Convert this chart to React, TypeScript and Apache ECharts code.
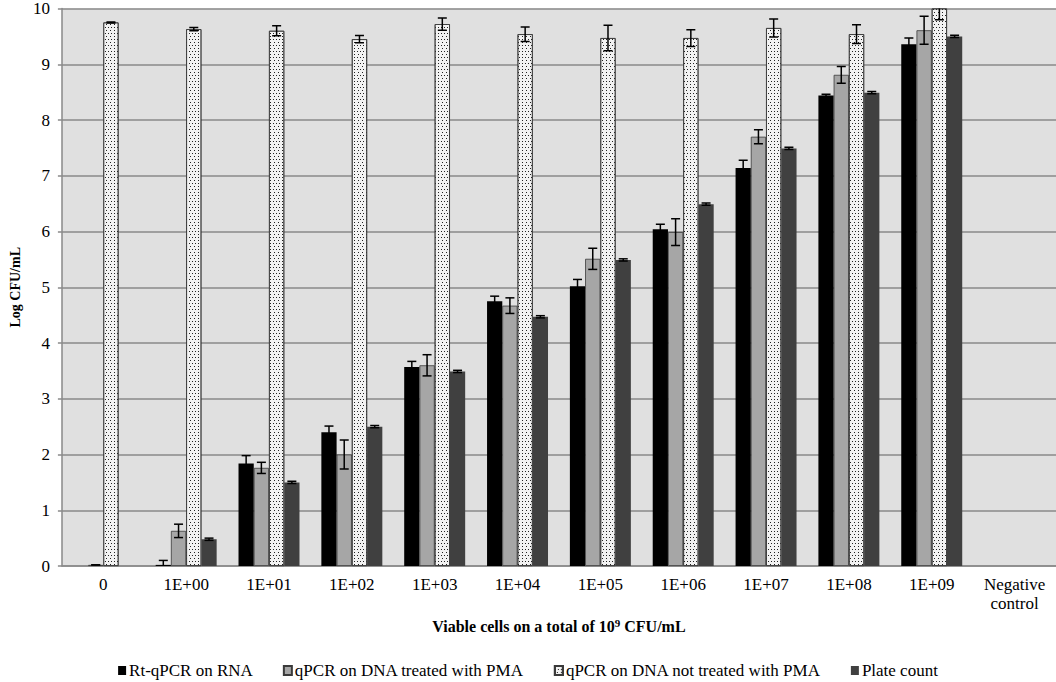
import React, { useEffect, useRef } from "react";
import * as echarts from "echarts";

const categories = ["0", "1E+00", "1E+01", "1E+02", "1E+03", "1E+04", "1E+05", "1E+06", "1E+07", "1E+08", "1E+09", "Negative\ncontrol"];
const yTicks = [0, 1, 2, 3, 4, 5, 6, 7, 8, 9, 10];

const seriesNames = ["Rt-qPCR on RNA", "qPCR on DNA treated with PMA", "qPCR on DNA not treated with PMA", "Plate count"];

const rtRna = [0, 0.02, 1.84, 2.40, 3.57, 4.75, 5.02, 6.04, 7.14, 8.44, 9.36, null];
const rtRnaErr = [0, 0.08, 0.14, 0.11, 0.10, 0.09, 0.12, 0.09, 0.14, 0.02, 0.11, null];
const pmaDna = [0.02, 0.63, 1.76, 2.0, 3.6, 4.67, 5.51, 5.99, 7.7, 8.81, 9.61, null];
const pmaDnaErr = [0, 0.12, 0.1, 0.26, 0.19, 0.14, 0.19, 0.24, 0.125, 0.15, 0.25, null];
const noPmaDna = [9.75, 9.63, 9.6, 9.45, 9.72, 9.54, 9.47, 9.47, 9.65, 9.54, 10.0, null];
const noPmaDnaErr = [0.01, 0.03, 0.09, 0.065, 0.11, 0.13, 0.23, 0.15, 0.16, 0.17, 0.2, null];
const plateCount = [0, 0.48, 1.5, 2.5, 3.49, 4.47, 5.49, 6.49, 7.49, 8.49, 9.5, null];
const plateCountErr = [0, 0.02, 0.02, 0.02, 0.02, 0.02, 0.02, 0.02, 0.02, 0.02, 0.02, null];

const FONT = "Liberation Serif";
const CAT_GAP = 0.264;

export default function App() {
  const ref = useRef<HTMLDivElement>(null);
  useEffect(() => {
    if (!ref.current) return;
    const chart = echarts.init(ref.current, null, { renderer: "svg" });

    const values = [rtRna, pmaDna, noPmaDna, plateCount];
    const errs = [rtRnaErr, pmaDnaErr, noPmaDnaErr, plateCountErr];
    const errData: any[] = [];
    values.forEach((arr, k) => {
      arr.forEach((v, i) => {
        const e = errs[k][i];
        if (v == null || e == null || (v === 0 && e === 0)) return;
        errData.push([i, v, e, k]);
      });
    });

    const styles: any[] = [
      { color: "#000000" },
      { color: "#a6a6a6", borderColor: "#3a3a3a", borderWidth: 0.8 },
      {
        color: "#f2f2f2",
        borderColor: "#3a3a3a",
        borderWidth: 0.8,
        decal: {
          symbol: "rect",
          symbolSize: 1,
          color: "#222222",
          dashArrayX: [[1, 2], [0, 1.5, 1, 0.5]],
          dashArrayY: [1, 1.5],
          rotation: 0,
        },
      },
      { color: "#404040" },
    ];

    const option: any = {
      animation: false,
      backgroundColor: "#ffffff",
      textStyle: { fontFamily: FONT },
      grid: {
        left: 50,
        right: 0,
        top: 6,
        bottom: 116,
        show: true,
        backgroundColor: "#e0e0e0",
        borderWidth: 0,
      },
      legend: {
        data: seriesNames.map((n) => ({ name: n, icon: "rect" })),
        left: "center",
        top: 657,
        itemWidth: 8,
        itemHeight: 9,
        itemGap: 30,
        textStyle: { fontFamily: FONT, fontSize: 17, color: "#000", padding: [0, 0, 0, -2] },
      },
      xAxis: {
        type: "category",
        data: categories,
        axisLine: { lineStyle: { color: "#8a8a8a", width: 1.5 } },
        axisTick: { show: false },
        axisLabel: {
          interval: 0,
          fontFamily: FONT,
          fontSize: 17,
          color: "#000",
          margin: 9,
          lineHeight: 19,
        },
        name: "Viable cells on a total of 10{sup|9} CFU/mL",
        nameLocation: "middle",
        nameGap: 41,
        nameTextStyle: {
          fontFamily: FONT,
          fontSize: 16,
          fontWeight: "bold",
          color: "#000",
          rich: {
            sup: { fontFamily: FONT, fontSize: 11, fontWeight: "bold", color: "#000", padding: [0, 0, 7, 0] },
          },
        },
      },
      yAxis: {
        type: "value",
        min: yTicks[0],
        max: yTicks[yTicks.length - 1],
        interval: 1,
        axisLine: { show: true, lineStyle: { color: "#8a8a8a", width: 1.5 } },
        axisTick: { show: true, length: 4, lineStyle: { color: "#8a8a8a", width: 1.5 } },
        splitLine: { show: true, lineStyle: { color: "#8a8a8a", width: 1.5 } },
        axisLabel: { fontFamily: FONT, fontSize: 17, color: "#000", margin: 12 },
        name: "Log CFU/mL",
        nameLocation: "middle",
        nameGap: 38,
        nameTextStyle: { fontFamily: FONT, fontSize: 14, fontWeight: "bold", color: "#000" },
      },
      series: [
        ...seriesNames.map((name, k) => ({
          name,
          type: "bar",
          data: values[k],
          barGap: "0%",
          barCategoryGap: CAT_GAP * 100 + "%",
          itemStyle: styles[k],
          z: 2,
        })),
        {
          type: "custom",
          name: "err",
          z: 5,
          clip: true,
          data: errData,
          encode: { x: 0, y: 1 },
          renderItem: (params: any, api: any) => {
            const idx = api.value(0);
            const v = api.value(1);
            const e = api.value(2);
            const k = api.value(3);
            const band = api.size([1, 0])[0];
            const groupW = band * (1 - CAT_GAP);
            const w = groupW / 4;
            const c = api.coord([idx, v]);
            const x = c[0] - groupW / 2 + w * (k + 0.5);
            const top = api.coord([idx, v + e])[1];
            const bot = api.coord([idx, Math.max(0, v - e)])[1];
            const cap = 4.5;
            const st = { stroke: "#000", lineWidth: 1.5 };
            return {
              type: "group",
              children: [
                { type: "line", shape: { x1: x, y1: top, x2: x, y2: bot }, style: st },
                { type: "line", shape: { x1: x - cap, y1: top, x2: x + cap, y2: top }, style: st },
                { type: "line", shape: { x1: x - cap, y1: bot, x2: x + cap, y2: bot }, style: st },
              ],
            };
          },
        },
      ],
    };
    chart.setOption(option);
    return () => chart.dispose();
  }, []);
  return <div ref={ref} style={{ position: "absolute", left: 0, top: 0, width: 1056, height: 682 }} />;
}
